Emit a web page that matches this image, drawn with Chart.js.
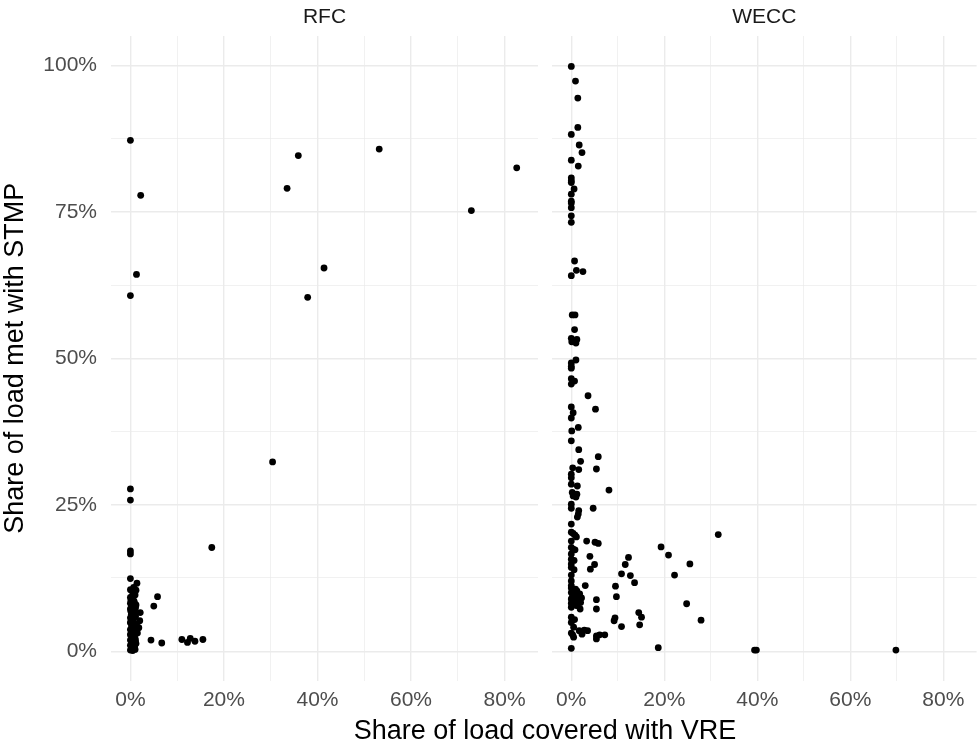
<!DOCTYPE html>
<html><head><meta charset="utf-8">
<script src="https://cdn.jsdelivr.net/npm/chart.js@4/dist/chart.umd.min.js"></script>
<style>
html,body{margin:0;padding:0;background:#fff;width:980px;height:749px;overflow:hidden;}
#wrap{position:relative;width:980px;height:749px;background:#fff;}
#c1{position:absolute;left:0;top:0;}
#c2{position:absolute;left:545px;top:0;}
#xt{position:absolute;left:245px;width:600px;top:715px;text-align:center;font-family:'Liberation Sans',Arial,sans-serif;font-size:27px;line-height:30px;color:#000;white-space:nowrap;}
</style></head><body>
<div id="wrap">
<canvas id="c1" width="545" height="749"></canvas>
<canvas id="c2" width="435" height="749"></canvas>
<div id="xt">Share of load covered with VRE</div>
</div>
<script>
// ---- data ----
const panelNames = ["RFC", "WECC"];
const xTickValues = [0, 0.1, 0.2, 0.3, 0.4, 0.5, 0.6, 0.7, 0.8];
const xTickLabels = ["0%", "", "20%", "", "40%", "", "60%", "", "80%"];
const yTickValues = [0, 0.125, 0.25, 0.375, 0.5, 0.625, 0.75, 0.875, 1];
const yTickLabels = ["0%", "", "25%", "", "50%", "", "75%", "", "100%"];

const rfcX = [0,0.022,0.335,0.359,0.532,0.826,0.729,0.414,0.379,0.013,0,0.304,0.174,0,0,0,0,0.058,0.050,0.044,0.067,0.110,0.128,0.122,0.138,0.155,
  0,0.014,0.007,0,0.005,0.010,0,0.003,0.008,0,0.012,0.004,0,0.009,0.021,0.002,0.011,0,0.006,0.020,0,0.013,0.003,0.018,0,0.007,0.015,0,0.004,0.010,0,0.006,0.012,0,0.003,0.008,0,0.005,0.010,0.002,0.001,0.001,0.001,0.001,
  0.004,0.009,0.006,0.011,0.003,0.008,0.005,0.012,0.002,0.009,0.006,0.004,0.010,0.007,0.003,0.011,0.005,0.008,0.006,0.004,0.009,0.012];
const rfcY = [0.872,0.778,0.790,0.846,0.857,0.825,0.752,0.654,0.604,0.643,0.607,0.323,0.177,0.277,0.258,0.171,0.166,0.093,0.077,0.019,0.014,0.020,0.022,0.015,0.017,0.020,
  0.124,0.116,0.109,0.105,0.100,0.096,0.092,0.089,0.085,0.082,0.079,0.075,0.072,0.069,0.066,0.063,0.060,0.057,0.054,0.052,0.049,0.046,0.043,0.040,0.037,0.034,0.031,0.028,0.025,0.022,0.019,0.016,0.013,0.010,0.007,0.004,0.002,0.001,0.003,0.012,0.030,0.048,0.068,0.088,
  0.006,0.009,0.015,0.018,0.021,0.027,0.033,0.036,0.039,0.045,0.051,0.056,0.059,0.065,0.071,0.074,0.078,0.083,0.087,0.094,0.099,0.104];

const weccX = [0,0.009,0.014,0.014,0,0.017,0.023,0,0.015,0,0,0,0.006,0,0,0,0,0,0,0.007,0.011,0.025,0,
  0.002,0.008,0.007,0,0.012,0.001,0.010,0.010,0,0,0,0,0.007,0,0.036,0,0.052,0.004,0,0.015,0.001,0,0.016,0.058,0.020,0.054,0.003,0.016,0,0,
  0,0.013,0.081,0.002,0.007,0.012,0.004,0.010,0,0,0.047,0.016,0.015,0.013,0,0,0.004,0.008,0.011,0,0.033,0.051,0.058,0,0.004,0.008,0,0.040,0,0.006,0,0.123,0.050,0.041,0.116,0,0.006,0,0.108,0.127,0.136,0,0,0.030,0.095,
  0,0.005,0.012,0,0.018,0.003,0.010,0.022,0,0.007,0.015,0,0.004,0.011,0,0.020,
  0.097,0.054,0.054,0.019,0.145,0.151,0.094,0.092,0,0.007,0,0.147,0.108,0.005,0.017,0.023,0.035,0.028,0,0.003,0.005,0.054,0.061,0.054,0.072,0,0.187,
  0.316,0.193,0.209,0.255,0.222,0.248,0.279,0.394,0.398,0.698,
  0.002,0.009,0.014,0.006,0.003,0.012,0.008,0.001];
const weccY = [0.998,0.973,0.944,0.894,0.882,0.864,0.851,0.838,0.828,0.808,0.803,0.800,0.789,0.780,0.768,0.765,0.757,0.743,0.732,0.666,0.650,0.648,0.641,
  0.574,0.574,0.549,0.534,0.532,0.528,0.526,0.497,0.492,0.486,0.483,0.465,0.461,0.456,0.436,0.417,0.413,0.407,0.398,0.382,0.376,0.359,0.344,0.332,0.324,0.311,0.313,0.310,0.302,0.296,
  0.285,0.282,0.275,0.271,0.268,0.268,0.265,0.263,0.251,0.244,0.244,0.240,0.234,0.229,0.217,0.203,0.201,0.198,0.195,0.188,0.188,0.186,0.184,0.177,0.174,0.173,0.166,0.162,0.157,0.155,0.149,0.160,0.148,0.140,0.148,0.143,0.139,0.130,0.132,0.129,0.117,0.120,0.112,0.112,0.111,
  0.108,0.105,0.103,0.100,0.098,0.096,0.094,0.091,0.089,0.087,0.085,0.082,0.080,0.078,0.075,0.083,
  0.093,0.088,0.072,0.072,0.066,0.058,0.057,0.052,0.058,0.054,0.049,0.045,0.042,0.041,0.035,0.029,0.035,0.036,0.031,0.028,0.024,0.026,0.028,0.021,0.028,0.005,0.006,
  0.199,0.178,0.164,0.149,0.130,0.081,0.053,0.002,0.002,0.002,
  0.101,0.106,0.097,0.092,0.086,0.079,0.099,0.090];

// ---- rendering ----
const FONT = "'Liberation Sans', Arial, sans-serif";
const GRID = '#ebebeb';

const stripPlugin = {
  id: 'strip',
  afterDraw(chart, args, opts) {
    const {ctx, chartArea: a} = chart;
    ctx.save();
    ctx.font = "21px " + FONT;
    ctx.fillStyle = '#1a1a1a';
    ctx.textAlign = 'center';
    ctx.textBaseline = 'middle';
    ctx.fillText(opts.text, (a.left + a.right) / 2, 17);
    ctx.restore();
  }
};

function toPoints(xs, ys) { return xs.map((x, i) => ({x: x, y: ys[i]})); }

function makeChart(id, name, xs, ys, isLeft) {
  return new Chart(document.getElementById(id), {
    type: 'scatter',
    data: { datasets: [{ data: toPoints(xs, ys), backgroundColor: '#000', borderWidth: 0, pointRadius: 3.4, pointHoverRadius: 3.4 }] },
    plugins: [stripPlugin],
    options: {
      responsive: false,
      animation: false,
      devicePixelRatio: 1,
      layout: { padding: { top: 36, bottom: 0, left: isLeft ? 0 : 7, right: isLeft ? 7 : 0 } },
      plugins: { legend: { display: false }, tooltip: { enabled: false }, strip: { text: name } },
      scales: {
        x: {
          type: 'linear', min: -0.0415, max: 0.8715,
          afterBuildTicks: s => { s.ticks = xTickValues.map(v => ({value: v})); },
          afterFit: s => { s.height = 68.5; },
          border: { display: false },
          grid: { color: GRID, drawTicks: false, lineWidth: c => (c.tick && xTickLabels[xTickValues.indexOf(c.tick.value)] !== "") ? 1.4 : 0.7 },
          ticks: { padding: 7, color: '#4d4d4d', font: { family: FONT, size: 21 }, maxRotation: 0, autoSkip: false,
                   callback: (v) => { const i = xTickValues.indexOf(v); return i >= 0 ? xTickLabels[i] : ''; } }
        },
        y: {
          type: 'linear', min: -0.05, max: 1.05,
          afterBuildTicks: s => { s.ticks = yTickValues.map(v => ({value: v})); },
          afterFit: s => { s.width = isLeft ? 111 : 0; },
          border: { display: false },
          grid: { color: GRID, drawTicks: false, lineWidth: c => (c.tick && yTickLabels[yTickValues.indexOf(c.tick.value)] !== "") ? 1.4 : 0.7 },
          ticks: { display: isLeft, padding: 14, color: '#4d4d4d', font: { family: FONT, size: 21 }, autoSkip: false,
                   callback: (v) => { const i = yTickValues.indexOf(v); return i >= 0 ? yTickLabels[i] : ''; } },
          title: { display: isLeft, text: 'Share of load met with STMP', color: '#000', font: { family: FONT, size: 27, lineHeight: 1.15 }, padding: { top: 0, bottom: 0 } }
        }
      }
    }
  });
}

makeChart('c1', panelNames[0], rfcX, rfcY, true);
makeChart('c2', panelNames[1], weccX, weccY, false);
</script>
</body></html>
